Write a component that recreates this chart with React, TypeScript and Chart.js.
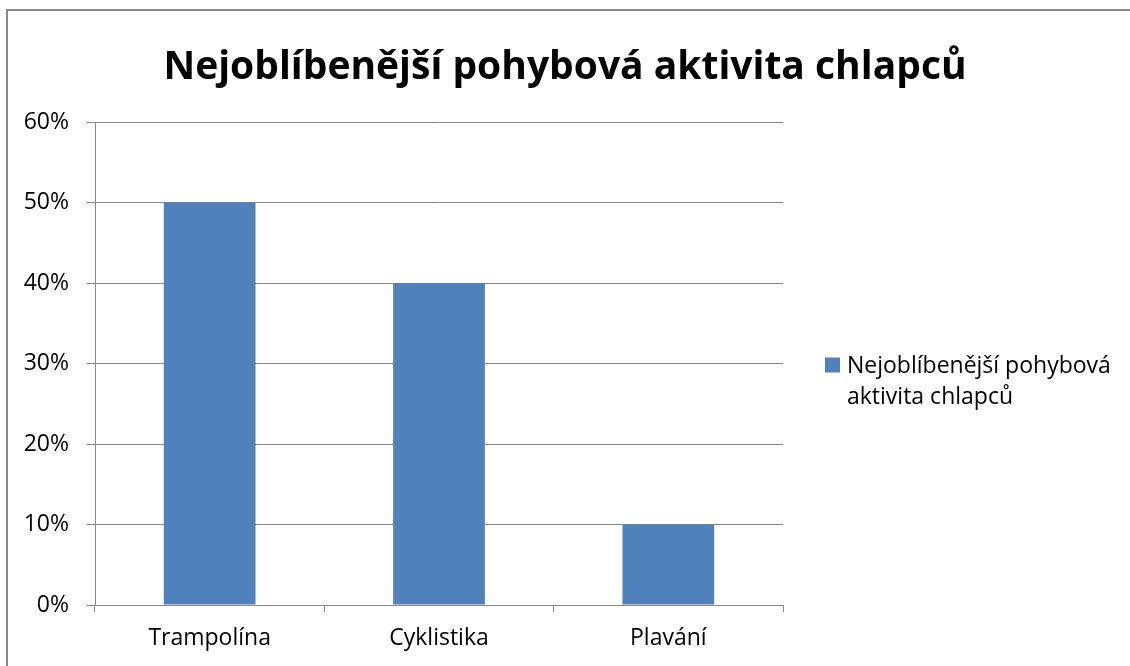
import React, { useEffect, useRef } from "react";
import { Chart, registerables } from "chart.js";

Chart.register(...registerables);

const TITLE = "Nejoblíbenější pohybová aktivita chlapců";
const SERIES_NAME = "Nejoblíbenější pohybová aktivita chlapců";
const LEGEND_LINES = ["Nejoblíbenější pohybová", "aktivita chlapců"];
const CATEGORIES = ["Trampolína", "Cyklistika", "Plavání"];
const VALUES = [50, 40, 10];
const Y_MIN = 0;
const Y_MAX = 60;
const Y_STEP = 10;

const FONT = "'Open Sans', 'Noto Sans', sans-serif";
const BAR_COLOR = "#4F81BD";
const GRID_COLOR = "#888888";

export default function App() {
  const ref = useRef<HTMLCanvasElement | null>(null);

  useEffect(() => {
    if (!ref.current) return;
    const decorPlugin = {
      id: "decor",
      afterDraw(chart: any) {
        const ctx = chart.ctx;
        const area = chart.chartArea;
        ctx.save();
        // title centred on the whole canvas
        ctx.fillStyle = "#000";
        ctx.font = `bold 39px ${FONT}`;
        ctx.textAlign = "center";
        ctx.textBaseline = "middle";
        ctx.fillText(TITLE, chart.width / 2, 68);
        // legend on the right
        const x0 = area.right + 42;
        const base = (area.top + area.bottom) / 2 + 9;
        const lineH = 31;
        ctx.fillStyle = BAR_COLOR;
        ctx.fillRect(x0, base - 15, 15, 15);
        ctx.fillStyle = "#000";
        ctx.font = `23px ${FONT}`;
        ctx.textBaseline = "alphabetic";
        ctx.textAlign = "left";
        LEGEND_LINES.forEach((t, i) => ctx.fillText(t, x0 + 22, base + i * lineH));
        ctx.restore();
      },
    };
    const chart = new Chart(ref.current, {
      type: "bar",
      data: {
        labels: CATEGORIES,
        datasets: [
          {
            label: SERIES_NAME,
            data: VALUES,
            backgroundColor: BAR_COLOR,
            barPercentage: 0.4,
            categoryPercentage: 1,
          },
        ],
      },
      options: {
        animation: false,
        responsive: false,
        maintainAspectRatio: false,
        layout: { padding: { left: 0, right: 347, top: 122, bottom: 0 } },
        plugins: {
          legend: { display: false },
          tooltip: { enabled: false },
          title: { display: false },
        },
        scales: {
          x: {
            grid: {
              display: true,
              drawOnChartArea: false,
              drawTicks: true,
              tickLength: 7,
              color: GRID_COLOR,
              offset: true,
            },
            border: { display: true, color: GRID_COLOR, width: 1 },
            ticks: {
              color: "#000",
              font: { family: FONT, size: 23 },
              padding: 13,
              maxRotation: 0,
            },
            afterFit(scale: any) {
              scale.height = 61;
            },
          },
          y: {
            min: Y_MIN,
            max: Y_MAX,
            grid: {
              color: GRID_COLOR,
              tickLength: 8,
              drawTicks: true,
            },
            border: { display: true, color: GRID_COLOR, width: 1 },
            ticks: {
              stepSize: Y_STEP,
              color: "#000",
              font: { family: FONT, size: 23 },
              padding: 18,
              callback: (v: any) => `${v}%`,
            },
            afterFit(scale: any) {
              scale.width = 95;
            },
          },
        },
      },
      plugins: [decorPlugin],
    });
    return () => chart.destroy();
  }, []);

  return (
    <div
      style={{
        position: "fixed",
        left: 0,
        top: 0,
        width: 1130,
        height: 666,
        overflow: "hidden",
        background: "#fff",
      }}
    >
      <div
        style={{
          position: "absolute",
          left: 6,
          top: 9,
          width: 1200,
          height: 700,
          border: "2px solid #8a8a8a",
        }}
      />
      <canvas
        ref={ref}
        width={1130}
        height={666}
        style={{ position: "absolute", left: 0, top: 0, width: 1130, height: 666 }}
      />
    </div>
  );
}
